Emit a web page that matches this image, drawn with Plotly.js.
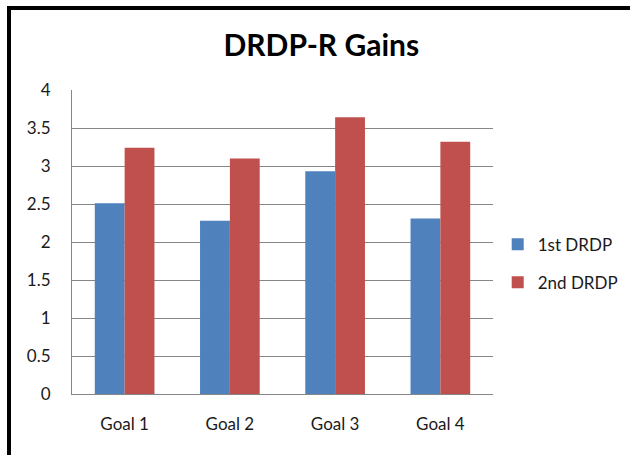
<!DOCTYPE html>
<html>
<head>
<meta charset="utf-8">
<script src="https://cdn.plot.ly/plotly-3.0.1.min.js"></script>
<style>
  html, body { margin: 0; padding: 0; background: #fff; }
  #chart { width: 630px; height: 455px; }
  #frame { position: absolute; left: 7px; top: 6px; width: 700px; height: 500px;
           border-left: 4px solid #000; border-top: 4px solid #000; pointer-events: none; }
</style>
</head>
<body>
<div id="chart"></div>
<div id="frame"></div>
<script>
const categories = ["Goal 1", "Goal 2", "Goal 3", "Goal 4"];
const firstDRDP = [2.51, 2.28, 2.93, 2.31];
const secondDRDP = [3.24, 3.10, 3.64, 3.32];
const seriesNames = ["1st DRDP", "2nd DRDP"];
const yTickVals = [0, 0.5, 1, 1.5, 2, 2.5, 3, 3.5, 4];
const yTickText = ["0", "0.5", "1", "1.5", "2", "2.5", "3", "3.5", "4"];

const font = "Lato, 'Open Sans', sans-serif";
const gridColor = "#868686";

const data = [
  { type: "bar", name: seriesNames[0], x: categories, y: firstDRDP,
    marker: { color: "#4F81BD" }, legendgroup: "a", hoverinfo: "y" },
  { type: "bar", name: seriesNames[1], x: categories, y: secondDRDP,
    marker: { color: "#C0504D" }, legendgroup: "b", hoverinfo: "y" }
];

const layout = {
  width: 630, height: 455,
  margin: { l: 72, r: 137, t: 90, b: 61 },
  paper_bgcolor: "#fff", plot_bgcolor: "#fff",
  font: { family: font, size: 17, color: "#1a1a1a" },
  title: { text: "<b>DRDP-R Gains</b>", x: 0.51, xanchor: "center", xref: "container",
           y: 0.899, yanchor: "middle", yref: "container",
           font: { family: font, size: 30, color: "#000" } },
  barmode: "group", bargap: 0.433, bargroupgap: 0,
  xaxis: { showgrid: false, showline: true, linecolor: gridColor, linewidth: 1,
           ticks: "", ticklabelstandoff: 15, zeroline: false, automargin: false,
           tickfont: { family: font, size: 17, color: "#1a1a1a" } },
  yaxis: { range: [0, 4], tickvals: yTickVals, ticktext: yTickText,
           showgrid: true, gridcolor: gridColor, gridwidth: 1,
           showline: true, linecolor: gridColor, linewidth: 1, zeroline: false,
           ticks: "", ticklabelstandoff: 17, automargin: false,
           tickfont: { family: font, size: 17, color: "#1a1a1a" } },
  showlegend: true,
  legend: { xref: "container", yref: "container", x: 0.79, xanchor: "left",
            y: 1 - 263.6 / 455, yanchor: "middle",
            tracegroupgap: 13, traceorder: "grouped",
            font: { family: font, size: 17, color: "#1a1a1a" },
            bgcolor: "rgba(0,0,0,0)" }
};

Plotly.newPlot("chart", data, layout, { displayModeBar: false, staticPlot: true });
</script>
</body>
</html>
